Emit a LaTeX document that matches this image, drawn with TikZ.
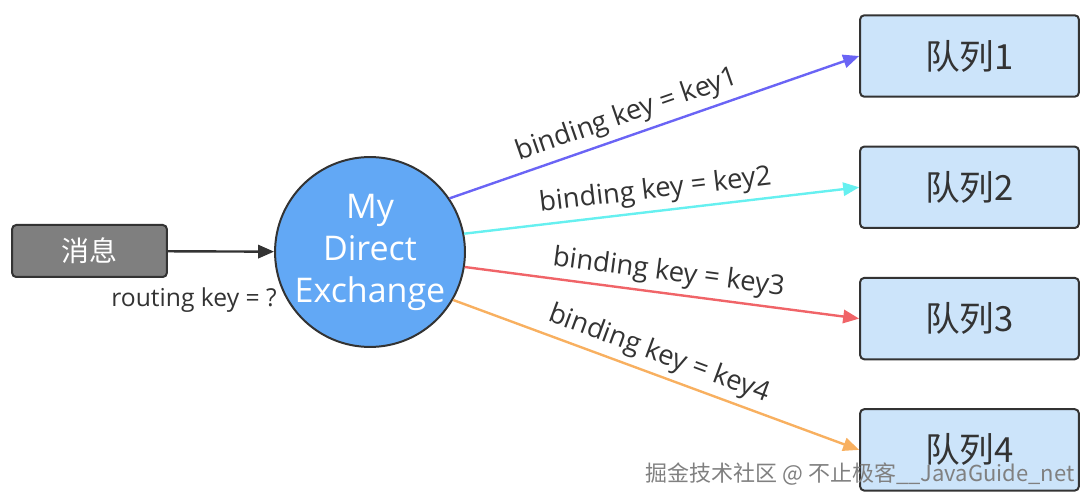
\documentclass[tikz,border=0pt]{standalone}
\usepackage{fontspec}
\setmainfont{Noto Sans CJK SC}
\newfontfamily\latinfont{Open Sans}
\usetikzlibrary{arrows.meta}
\definecolor{msggray}{HTML}{7F7F7F}
\definecolor{exblue}{HTML}{62A8F5}
\definecolor{qblue}{HTML}{CCE4FA}
\definecolor{edgedark}{HTML}{333333}
\definecolor{keyone}{HTML}{6A64F5}
\definecolor{keytwo}{HTML}{66F0F0}
\definecolor{keythree}{HTML}{F06468}
\definecolor{keyfour}{HTML}{F8B060}
\begin{document}
\begin{tikzpicture}[x=0.75pt, y=-0.75pt]
        \def\vert{131.3}
        \def\hori{969.5}
        \tikzstyle{msg}=[rectangle, rounded corners=3pt, draw=edgedark, line width=1.5pt, fill=msggray, text=white, minimum width=116pt, minimum height=39pt, font=\fontsize{21}{24}\selectfont]
        \tikzstyle{exch}=[circle, draw=edgedark, line width=1.5pt, fill=exblue, text=white, minimum size=142pt, inner sep=0pt, align=center, font=\latinfont\fontsize{25.5}{31.5}\selectfont]
        \tikzstyle{queue}=[rectangle, rounded corners=3pt, draw=edgedark, line width=1.5pt, fill=qblue, text=edgedark, minimum width=164pt, minimum height=61pt, font=\fontsize{26}{30}\selectfont]
        \tikzstyle{link}=[line width=1.8pt, -{Triangle[length=12pt, width=10pt]}]
        \tikzstyle{lbl}=[sloped, above=2pt, inner sep=2pt, text=edgedark, font=\latinfont\fontsize{20.5}{24}\selectfont]

        \useasboundingbox (0,0) rectangle (1089,502);

        % Nodes
        \node[msg] (msg) at (89.5, 251) {消息};
        \node[exch] (ex) at (370, 252) {My\\Direct\\Exchange};

        \node[queue] (q1) at (\hori, 56 + 0 * \vert) {队列1};
        \node[queue] (q2) at (\hori, 56 + 1 * \vert) {队列2};
        \node[queue] (q3) at (\hori, 56 + 2 * \vert) {队列3};
        \node[queue] (q4) at (\hori, 56 + 3 * \vert) {队列4};

        \node[text=edgedark, font=\latinfont\fontsize{18.5}{21}\selectfont] (rk) at (194, 300) {routing key = ?};
        \node[text=gray, font=\fontsize{16.5}{19}\selectfont] (wm) at (860, 474) {掘金技术社区 @ 不止极客\_\_JavaGuide\_net};

        % Edges
        \draw [link, edgedark] (msg) to (ex);

        \draw [link, keyone] (ex.34) to node[lbl, pos=0.45]{binding key = key1} (q1.west);
        \draw [link, keytwo] (ex.11) to node[lbl, pos=0.49]{binding key = key2} (q2.west);
        \draw [link, keythree] (ex.-9) to node[lbl, pos=0.51]{binding key = key3} (q3.west);
        \draw [link, keyfour] (ex.-30) to node[lbl, pos=0.49]{binding key = key4} (q4.west);

    \end{tikzpicture}
\end{document}
